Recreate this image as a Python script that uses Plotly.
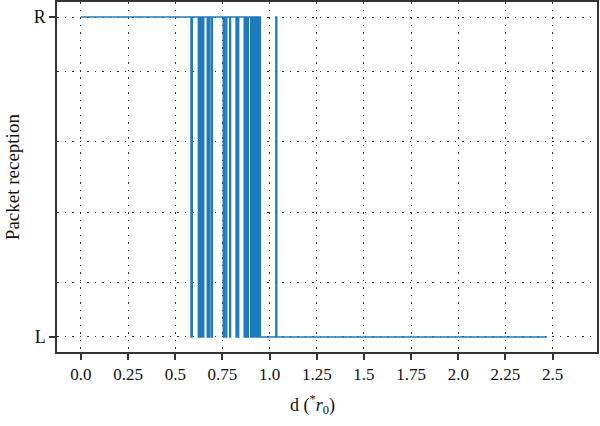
import plotly.graph_objects as go

# Step points of the packet-reception signal (d in units of r0); state: 1 = R, 0 = L
d_points = [0.0, 0.583, 0.590, 0.622, 0.628, 0.634, 0.640, 0.646, 0.651, 0.669,
            0.674, 0.677, 0.682, 0.691, 0.696, 0.754, 0.760, 0.768, 0.773, 0.788,
            0.793, 0.822, 0.826, 0.831, 0.836, 0.865, 0.870, 0.874, 0.878, 0.882,
            0.887, 0.899, 0.903, 0.908, 0.912, 0.917, 0.921, 0.926, 0.930, 0.934,
            0.939, 0.943, 0.947, 0.951, 1.033, 1.038, 2.47]
states = [1, 0, 1, 0, 1, 0, 1, 0, 1, 0,
          1, 0, 1, 0, 1, 0, 1, 0, 1, 0,
          1, 0, 1, 0, 1, 0, 1, 0, 1, 0,
          1, 0, 1, 0, 1, 0, 1, 0, 1, 0,
          1, 0, 1, 0, 1, 0, 0]

x_tickvals = [0.0, 0.25, 0.5, 0.75, 1.0, 1.25, 1.5, 1.75, 2.0, 2.25, 2.5]
x_ticktext = ["0.0", "0.25", "0.5", "0.75", "1.0", "1.25", "1.5", "1.75", "2.0", "2.25", "2.5"]
y_tickvals = [0, 1]
y_ticktext = ["L", "R"]
y_minor_grid = [0.171, 0.389, 0.611, 0.829]

FONT = "Liberation Serif"
GRID = "#333333"
FRAME = "#333333"

fig = go.Figure()
fig.add_trace(go.Scatter(
    x=d_points, y=states, mode="lines",
    line=dict(color="#1f7ac0", width=1.4, shape="hv"),
    showlegend=False, hoverinfo="skip",
))

fig.update_layout(
    width=600, height=426,
    margin=dict(l=57, r=3, t=2, b=74, autoexpand=False),
    paper_bgcolor="white", plot_bgcolor="white",
    font=dict(family=FONT, size=17, color="#111111"),
    xaxis=dict(
        range=[-0.127, 2.735], automargin=False,
        tickmode="array", tickvals=x_tickvals, ticktext=x_ticktext,
        ticks="outside", ticklen=6, tickwidth=1.5, tickcolor=FRAME,
        showline=True, linecolor=FRAME, linewidth=1.5, mirror=True,
        showgrid=True, gridcolor=GRID, gridwidth=1, griddash="1.5px,6px",
        zeroline=False,
        tickfont=dict(family=FONT, size=17),
    ),
    yaxis=dict(
        range=[-0.047, 1.047], automargin=False,
        tickmode="array", tickvals=y_tickvals, ticktext=y_ticktext,
        ticks="outside", ticklen=6, tickwidth=1.5, tickcolor=FRAME,
        showline=True, linecolor=FRAME, linewidth=1.5, mirror=True,
        showgrid=True, gridcolor=GRID, gridwidth=1, griddash="1.5px,6px",
        zeroline=False,
        minor=dict(tickmode="array", tickvals=y_minor_grid, ticks="",
                   showgrid=True, gridcolor=GRID, gridwidth=1, griddash="1.5px,6px"),
        tickfont=dict(family=FONT, size=18),
    ),
    annotations=[
        dict(text="Packet reception", xref="paper", yref="paper",
             x=-0.083, y=0.5, xanchor="center", yanchor="middle", textangle=-90,
             showarrow=False, font=dict(family=FONT, size=19, color="#111111")),
        dict(text="d (<sup>*</sup><i>r</i><sub>0</sub>)", xref="paper", yref="paper",
             x=0.473, y=-0.151, xanchor="center", yanchor="middle",
             showarrow=False, font=dict(family=FONT, size=18, color="#111111")),
    ],
)

fig.write_html(
    "out.html",
    config={"displayModeBar": False},
    post_script="document.body.style.margin='0px';document.body.style.overflow='hidden';",
)
